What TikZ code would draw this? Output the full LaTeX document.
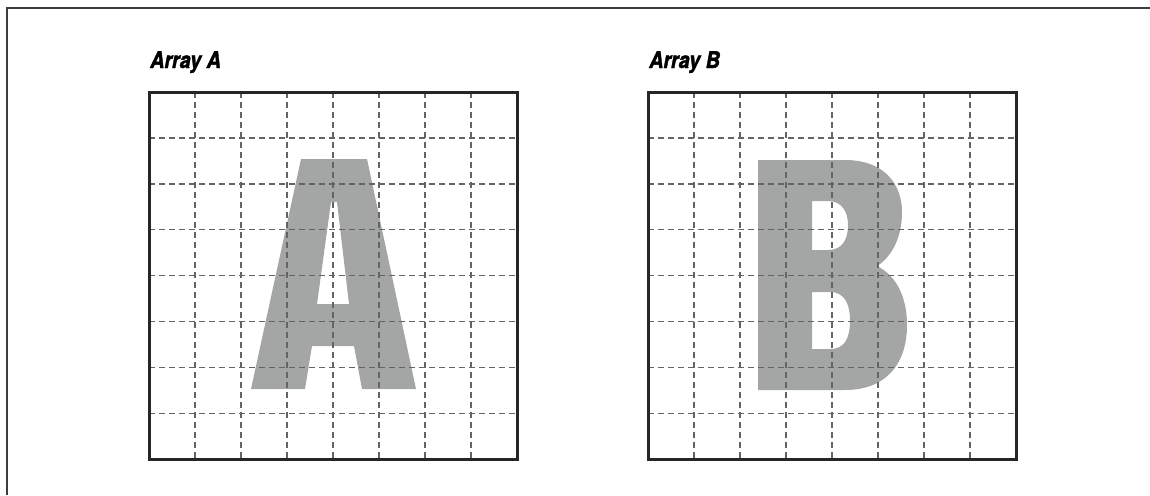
\documentclass[tikz,border=0pt]{standalone}
\usepackage{fontspec}
\newfontfamily\arrayfont{TeX Gyre Heros}[FakeStretch=0.86, FakeBold=1.6]
\definecolor{lettergray}{RGB}{163, 166, 165}
\definecolor{gridgray}{RGB}{100, 100, 100}
\definecolor{framegray}{RGB}{60, 60, 60}
\usetikzlibrary{positioning}

\begin{document}
\begin{tikzpicture}[x=1pt, y=-1pt,
    arraybox/.style={draw=black!85, line width=3pt, minimum width=368pt, minimum height=367pt, inner sep=0pt},
    gridline/.style={draw=gridgray, line width=1.4pt, dash pattern=on 6pt off 4pt},
    arraylabel/.style={font=\arrayfont\bfseries\itshape\fontsize{23}{26}\selectfont, inner sep=0pt, anchor=base west},
    letter/.style={fill=lettergray, even odd rule}]
  \useasboundingbox (0,0) rectangle (1150,495);
  % page frame
  \draw[framegray, line width=2pt] (7,495) -- (7,8) -- (1150,8);

  % letter A
  \fill[letter] (251,389) -- (301,159) -- (367,159) -- (416,389) -- (362,389) -- (354,346)
    -- (312,346) -- (305,389) -- cycle
    (317,304) -- (349,304) -- (337,202) -- (331,202) -- cycle;
  % letter B
  \fill[letter] (758,160) -- (845,160) .. controls (885,160) and (902,185) .. (902,212)
    .. controls (902,240) and (890,258) .. (877,266)
    .. controls (897,276) and (907,298) .. (907,325)
    .. controls (907,365) and (885,390) .. (845,390) -- (758,390) -- cycle
    (812,201) -- (828,201) .. controls (842,201) and (848,212) .. (848,225)
    .. controls (848,240) and (842,250) .. (828,250) -- (812,250) -- cycle
    (812,292) -- (830,292) .. controls (845,292) and (850,305) .. (850,320)
    .. controls (850,338) and (845,349) .. (830,349) -- (812,349) -- cycle;

  % dashed grids
  \foreach \ox in {149, 648} {
    \foreach \i in {1,...,7} {
      \draw[gridline] (\ox+46*\i, 92) -- (\ox+46*\i, 459);
      \draw[gridline] (\ox, 92+45.9*\i) -- (\ox+368, 92+45.9*\i);
    }
  }

  % array outlines
  \node[arraybox] (arrA) at (333,275.5) {};
  \node[arraybox] (arrB) at (832,275.5) {};

  % labels
  \node[arraylabel] (labA) at (150,68) {Array A};
  \node[arraylabel] (labB) at (649,68) {Array B};
\end{tikzpicture}
\end{document}
